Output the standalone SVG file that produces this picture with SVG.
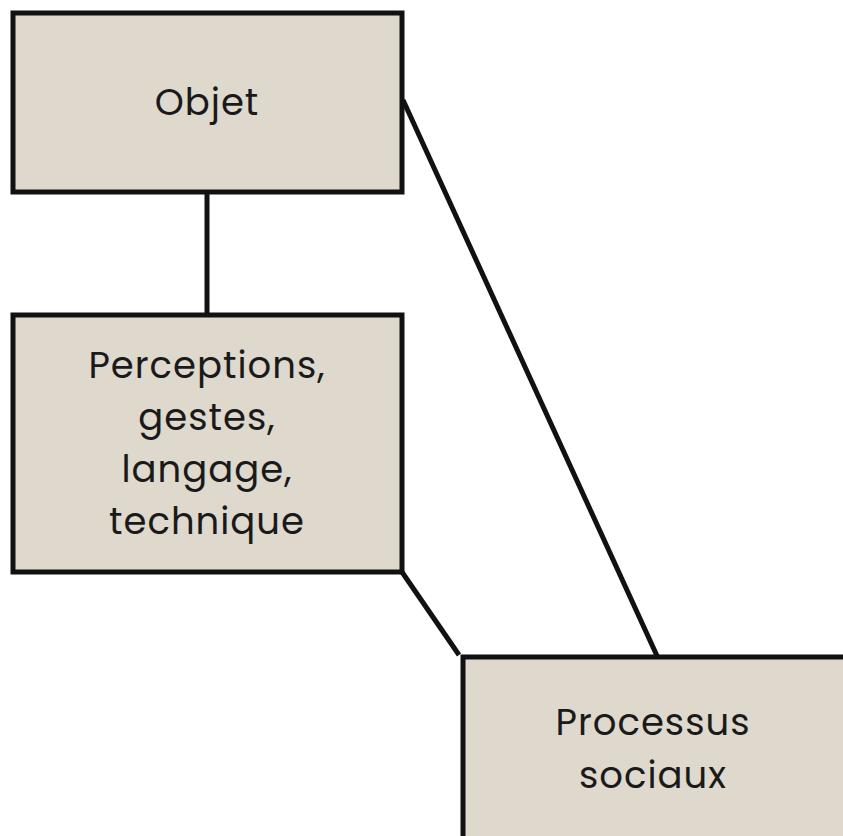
<svg xmlns="http://www.w3.org/2000/svg" width="843" height="836" viewBox="0 0 843 836">
  <style>
    .box { fill: #ded8cd; stroke: #111; stroke-width: 5; }
    .lbl { font-family: "Poppins", "Inter", "Noto Sans", sans-serif; font-size: 37px; font-weight: 400; letter-spacing: 1px; fill: #1a1a1a; text-anchor: middle; }
    .link { stroke: #111; stroke-width: 5; fill: none; }
  </style>
  <rect width="843" height="836" fill="#ffffff"/>
  <g id="connectors">
    <line class="link" x1="207" y1="192" x2="207" y2="315"/>
    <line class="link" x1="403" y1="100" x2="658" y2="658"/>
    <line class="link" x1="402" y1="572" x2="459" y2="655"/>
  </g>
  <g id="objet">
    <rect class="box" x="13" y="13" width="389" height="179"/>
    <text class="lbl" x="207" y="115">Objet</text>
  </g>
  <g id="perceptions">
    <rect class="box" x="13" y="315" width="389" height="257"/>
    <text class="lbl" x="207" y="378">Perceptions,</text>
    <text class="lbl" x="207" y="430">gestes,</text>
    <text class="lbl" x="207" y="482">langage,</text>
    <text class="lbl" x="207" y="534">technique</text>
  </g>
  <g id="processus">
    <rect class="box" x="463" y="657" width="400" height="200"/>
    <text class="lbl" x="653" y="735">Processus</text>
    <text class="lbl" x="653" y="788">sociaux</text>
  </g>
</svg>
